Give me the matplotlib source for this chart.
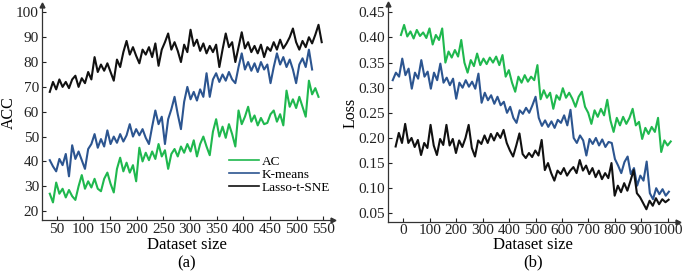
import numpy as np
import matplotlib
matplotlib.use("Agg")
import matplotlib.pyplot as plt

plt.rcParams["font.family"] = ["Liberation Serif", "DejaVu Serif"]

# ---------------- panel (a): ACC vs dataset size ----------------
acc_x_range = {"AC": (37, 541), "K-means": (37, 529), "Lasso-t-SNE": (37, 547)}

acc_ac = [27, 23.5, 31.5, 27, 29, 25.5, 28.5, 26, 24.5, 30, 34.5, 29, 32, 29.5, 33, 29,
          28, 33, 35.5, 31, 27.5, 37, 41.5, 36, 39.5, 35.5, 38.5, 32, 45.5, 40, 43.5, 40.5,
          44, 41, 47, 42, 44.5, 37, 43, 45, 42, 46, 43.5, 47, 44, 48.5, 42, 47, 50, 46,
          42.5, 52, 57, 50, 54, 49.5, 55, 51, 46, 60.5, 55, 58, 62, 56, 58.5, 54.5, 57.5,
          55, 55.5, 59, 60.5, 56, 59, 54.5, 68.5, 62, 65, 61.5, 66, 62, 58, 72.5, 67,
          69.5, 66]
acc_km = [40.5, 38, 36, 41, 38.5, 43, 34, 46.5, 41, 44, 40.5, 37, 45, 47, 51, 45.5, 49,
          46, 52.5, 47, 50, 47.5, 51, 48, 50.5, 55, 50, 53, 50.5, 53, 49.5, 47, 54, 60.5,
          55, 58, 47, 57, 61, 66, 59, 53, 64, 70, 65, 68, 64.5, 69, 66, 75.5, 66, 73,
          75.5, 72, 75, 72.5, 76, 73, 71.5, 78, 83.5, 77, 80, 76.5, 79.5, 76, 80, 77, 79,
          71.5, 78, 83.5, 79, 82, 78, 81, 77, 71.5, 79, 81.5, 78, 85, 77]
acc_lasso = [68, 72, 69, 73, 70, 72, 69.5, 73, 74.5, 70, 73.5, 71.5, 76, 73, 82, 76, 79,
             76.5, 79.5, 76, 72.5, 81, 78, 84, 88.5, 83, 86, 82.5, 79.5, 85, 83, 86, 82,
             87.5, 78.5, 85, 88, 91.5, 85, 88, 84.5, 80, 87, 84, 93, 86.5, 89, 84.5, 87.5,
             83.5, 86.5, 84, 87, 78, 85, 91.5, 86, 88, 80, 86, 92, 85.5, 88, 84, 86.5,
             83.5, 87, 82, 86, 84.5, 88, 85, 89, 85.5, 87.5, 90, 93.5, 88, 85, 88.5, 86,
             90, 87.5, 91, 95, 88]
acc_ticks = [50, 100, 150, 200, 250, 300, 350, 400, 450, 500, 550]
acc_yticks = [20, 30, 40, 50, 60, 70, 80, 90, 100]

# ---------------- panel (b): Loss vs dataset size ----------------
loss_x_range = {"AC": (-9, 1011), "K-means": (-40, 1004), "Lasso-t-SNE": (-29, 1003)}

loss_ac = [0.405, 0.425, 0.402, 0.412, 0.398, 0.415, 0.403, 0.41, 0.399, 0.418, 0.386,
           0.405, 0.395, 0.418, 0.35, 0.372, 0.36, 0.375, 0.362, 0.395, 0.35, 0.33, 0.355,
           0.343, 0.368, 0.345, 0.358, 0.347, 0.36, 0.35, 0.362, 0.345, 0.365, 0.322, 0.335,
           0.31, 0.292, 0.322, 0.31, 0.325, 0.312, 0.322, 0.315, 0.345, 0.277, 0.295, 0.28,
           0.29, 0.258, 0.285, 0.276, 0.299, 0.28, 0.29, 0.278, 0.262, 0.282, 0.292, 0.262,
           0.25, 0.228, 0.255, 0.242, 0.258, 0.245, 0.276, 0.235, 0.212, 0.24, 0.225, 0.242,
           0.228, 0.24, 0.258, 0.225, 0.232, 0.198, 0.22, 0.208, 0.222, 0.212, 0.24, 0.172,
           0.195, 0.185, 0.193]
loss_km = [0.315, 0.33, 0.322, 0.358, 0.325, 0.338, 0.298, 0.33, 0.318, 0.355, 0.322,
           0.332, 0.298, 0.33, 0.315, 0.348, 0.31, 0.32, 0.305, 0.318, 0.278, 0.31, 0.3,
           0.315, 0.302, 0.312, 0.298, 0.328, 0.27, 0.29, 0.275, 0.285, 0.268, 0.282, 0.265,
           0.272, 0.25, 0.262, 0.24, 0.23, 0.255, 0.248, 0.26, 0.25, 0.265, 0.282, 0.24,
           0.224, 0.235, 0.222, 0.233, 0.22, 0.236, 0.23, 0.245, 0.225, 0.256, 0.2, 0.19,
           0.205, 0.195, 0.165, 0.198, 0.188, 0.2, 0.185, 0.197, 0.182, 0.192, 0.19, 0.158,
           0.145, 0.13, 0.152, 0.163, 0.128, 0.14, 0.105, 0.125, 0.115, 0.153, 0.09, 0.078,
           0.1, 0.088, 0.098, 0.085, 0.093]
loss_lasso = [0.183, 0.21, 0.19, 0.228, 0.19, 0.2, 0.182, 0.196, 0.166, 0.19, 0.18, 0.226,
              0.185, 0.166, 0.198, 0.186, 0.226, 0.185, 0.198, 0.17, 0.195, 0.182, 0.2,
              0.226, 0.18, 0.163, 0.195, 0.188, 0.205, 0.19, 0.208, 0.195, 0.21, 0.2, 0.216,
              0.19, 0.175, 0.163, 0.185, 0.209, 0.168, 0.16, 0.17, 0.162, 0.175, 0.165,
              0.196, 0.136, 0.15, 0.13, 0.115, 0.135, 0.128, 0.14, 0.125, 0.135, 0.142, 0.13,
              0.156, 0.135, 0.145, 0.128, 0.14, 0.122, 0.135, 0.118, 0.13, 0.12, 0.15, 0.085,
              0.105, 0.092, 0.11, 0.095, 0.115, 0.136, 0.09, 0.082, 0.07, 0.058, 0.075, 0.065,
              0.08, 0.068, 0.078, 0.072, 0.077]
loss_ticks = [0, 100, 200, 300, 400, 500, 600, 700, 800, 900, 1000]
loss_yticks = [0.05, 0.10, 0.15, 0.20, 0.25, 0.30, 0.35, 0.40, 0.45]

COLORS = {"AC": "#1fb84e", "K-means": "#2c5590", "Lasso-t-SNE": "#111111"}


def style_axes(ax):
    for side in ("top", "right"):
        ax.spines[side].set_visible(False)
    for side in ("left", "bottom"):
        ax.spines[side].set_color("#333333")
        ax.spines[side].set_linewidth(0.9)
    ax.tick_params(direction="in", length=3, width=0.8, labelsize=11, pad=2,
                   colors="#222222")
    # arrow heads at the ends of the axes
    ax.plot(1, 0, ">", color="#333333", ms=3.5, transform=ax.transAxes, clip_on=False)
    ax.plot(0, 1, "^", color="#333333", ms=3.5, transform=ax.transAxes, clip_on=False)


def draw(ax, ranges, series):
    for name, vals in series.items():
        x0, x1 = ranges[name]
        xs = np.linspace(x0, x1, len(vals))
        ax.plot(xs, vals, color=COLORS[name], lw=1.5, label=name)


fig = plt.figure(figsize=(6.85, 2.72), dpi=100)
ax1 = fig.add_axes([0.061, 0.191, 0.425, 0.790])
ax2 = fig.add_axes([0.566, 0.185, 0.424, 0.800])

draw(ax1, acc_x_range, {"AC": acc_ac, "K-means": acc_km, "Lasso-t-SNE": acc_lasso})
ax1.set_xlim(22, 568)
ax1.set_ylim(16.4, 102.9)
ax1.set_xticks(acc_ticks)
ax1.set_yticks(acc_yticks)
ax1.set_xlabel("Dataset size", fontsize=12, labelpad=1)
ax1.set_ylabel("ACC", fontsize=11.5)
ax1.yaxis.set_label_coords(-0.086, 0.5)
style_axes(ax1)
leg = ax1.legend(loc="upper left", bbox_to_anchor=(0.62, 0.33), frameon=False,
                 fontsize=9.5, handlelength=2.3, handletextpad=0.2, labelspacing=0.05,
                 borderpad=0)
for line in leg.get_lines():
    line.set_linewidth(1.2)

draw(ax2, loss_x_range, {"AC": loss_ac, "K-means": loss_km, "Lasso-t-SNE": loss_lasso})
ax2.set_xlim(-59, 1039)
ax2.set_ylim(0.0333, 0.4665)
ax2.set_xticks(loss_ticks)
ax2.set_yticks(loss_yticks)
ax2.set_yticklabels([f"{v:.2f}" for v in loss_yticks])
ax2.set_xlabel("Dataset size", fontsize=12, labelpad=0)
ax2.set_ylabel("Loss", fontsize=11.5)
ax2.yaxis.set_label_coords(-0.1, 0.5)
style_axes(ax2)

fig.text(0.273, 0.033, "(a)", ha="center", va="center", fontsize=12)
fig.text(0.778, 0.037, "(b)", ha="center", va="center", fontsize=12)

fig.savefig("out.png", dpi=100)
